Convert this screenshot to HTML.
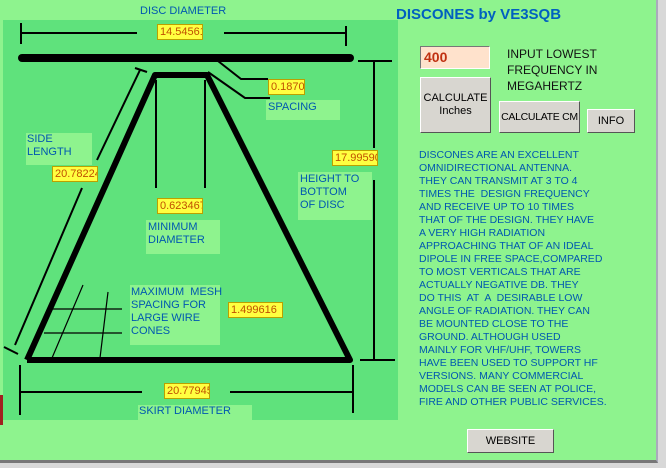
<!DOCTYPE html>
<html><head><style>
body{margin:0;width:666px;height:468px;overflow:hidden;background:#d8d8d8;font-family:"Liberation Sans",sans-serif;position:relative}
.pg{position:absolute;left:0;top:0;width:656px;height:460px;background:#8ef38e;border-right:2px solid #aab;border-bottom:3px solid #777}
.t{position:absolute;color:#0058b0;font-size:11px;line-height:13px;white-space:pre}
.bx{position:absolute;background:#ffff40;border:1px solid #bba000;color:#c05000;font-size:11px;line-height:14px;overflow:hidden;white-space:nowrap;padding-left:2px;box-sizing:border-box}
.btn{position:absolute;background:#d8d6d0;border:1px solid;border-color:#fff #555 #555 #fff;font-size:11px;text-align:center;color:#000;box-sizing:border-box;display:flex;align-items:center;justify-content:center;line-height:13px;white-space:nowrap}
.lb{position:absolute;background:#8ef38e}
</style></head><body>
<div class="pg"></div>
<div style="position:absolute;left:3px;top:20px;width:395px;height:400px;background:#5fe27c"></div>
<div style="position:absolute;left:0;top:395px;width:3px;height:30px;background:#a02020"></div>
<div class="lb" style="left:3px;top:0;width:395px;height:20px"></div>
<div class="lb" style="left:266px;top:100px;width:74px;height:20px"></div>
<div class="lb" style="left:26px;top:133px;width:66px;height:32px"></div>
<div class="lb" style="left:298px;top:172px;width:74px;height:48px"></div>
<div class="lb" style="left:146px;top:220px;width:74px;height:34px"></div>
<div class="lb" style="left:130px;top:285px;width:90px;height:60px"></div>
<div class="lb" style="left:138px;top:405px;width:114px;height:15px"></div>
<svg style="position:absolute;left:0;top:0" width="400" height="425">
<g stroke="#000" fill="none">
<line x1="22" y1="58" x2="350" y2="58" stroke-width="8" stroke-linecap="round"/>
<polyline points="27,360 155,75 207,75 350,360 27,360" stroke-width="6" stroke-linejoin="round"/>
<g stroke-width="2">
<line x1="21" y1="23" x2="21" y2="44"/><line x1="346" y1="26" x2="346" y2="46"/>
<line x1="21" y1="33" x2="137" y2="33"/><line x1="224" y1="33" x2="346" y2="33"/>
<polyline points="218,61 241,79 268,79"/><polyline points="208,72 245,98 270,98"/>
<line x1="358" y1="61" x2="392" y2="61"/><line x1="374" y1="60" x2="374" y2="148"/>
<line x1="374" y1="180" x2="374" y2="360"/><line x1="360" y1="360" x2="395" y2="360"/>
<line x1="140" y1="70" x2="97" y2="160"/><line x1="135" y1="68" x2="147" y2="72"/>
<line x1="82" y1="188" x2="15" y2="345"/><line x1="4" y1="347" x2="18" y2="354"/>
<line x1="156" y1="80" x2="156" y2="188"/><line x1="205" y1="80" x2="205" y2="188"/>
<line x1="20" y1="365" x2="20" y2="415"/><line x1="353" y1="365" x2="353" y2="413"/>
<line x1="20" y1="392" x2="142" y2="392"/><line x1="230" y1="392" x2="353" y2="392"/>
</g>
<g stroke-width="1.2">
<line x1="52" y1="309" x2="122" y2="309"/><line x1="44" y1="333" x2="122" y2="333"/>
<line x1="83" y1="285" x2="52" y2="358"/><line x1="108" y1="292" x2="100" y2="358"/>
</g></g></svg>
<div class="t" style="left:140px;top:5px">DISC DIAMETER</div>
<div class="bx" style="left:157px;top:24px;width:46px;height:16px">14.54561</div>
<div class="bx" style="left:268px;top:79px;width:37px;height:16px">0.1870</div>
<div class="t" style="left:268px;top:101px">SPACING</div>
<div class="t" style="left:27px;top:133px">SIDE
LENGTH</div>
<div class="bx" style="left:52px;top:166px;width:46px;height:16px">20.78224</div>
<div class="bx" style="left:332px;top:150px;width:46px;height:16px">17.99590</div>
<div class="t" style="left:300px;top:173px">HEIGHT TO
BOTTOM
OF DISC</div>
<div class="bx" style="left:157px;top:198px;width:46px;height:16px">0.623467</div>
<div class="t" style="left:148px;top:221px">MINIMUM
DIAMETER</div>
<div class="t" style="left:131px;top:286px">MAXIMUM  MESH
SPACING FOR
LARGE WIRE
CONES</div>
<div class="bx" style="left:228px;top:302px;width:55px;height:16px">1.499616</div>
<div class="bx" style="left:164px;top:383px;width:46px;height:16px">20.77945</div>
<div class="t" style="left:139px;top:405px">SKIRT DIAMETER</div>
<div style="position:absolute;left:396px;top:6px;color:#0060c0;font-weight:bold;font-size:15px">DISCONES by VE3SQB</div>
<div style="position:absolute;left:420px;top:46px;width:70px;height:23px;background:#ffe2cc;border:1px solid;border-color:#777 #fff #fff #777;box-sizing:border-box;color:#c03010;font-weight:bold;font-size:14px;line-height:21px;padding-left:3px">400</div>
<div style="position:absolute;left:507px;top:46px;font-size:12px;line-height:16px;color:#111">INPUT LOWEST<br>FREQUENCY IN<br>MEGAHERTZ</div>
<div class="btn" style="left:420px;top:77px;width:71px;height:56px">CALCULATE<br>Inches</div>
<div class="btn" style="left:499px;top:101px;width:81px;height:32px;font-size:10.5px;letter-spacing:-0.3px">CALCULATE CM</div>
<div class="btn" style="left:587px;top:109px;width:48px;height:24px">INFO</div>
<div class="t" style="left:419px;top:149px;font-size:10.5px">DISCONES ARE AN EXCELLENT
OMNIDIRECTIONAL ANTENNA.
THEY CAN TRANSMIT AT 3 TO 4
TIMES THE  DESIGN FREQUENCY
AND RECEIVE UP TO 10 TIMES
THAT OF THE DESIGN. THEY HAVE
A VERY HIGH RADIATION
APPROACHING THAT OF AN IDEAL
DIPOLE IN FREE SPACE,COMPARED
TO MOST VERTICALS THAT ARE
ACTUALLY NEGATIVE DB. THEY
DO THIS  AT  A  DESIRABLE LOW
ANGLE OF RADIATION. THEY CAN
BE MOUNTED CLOSE TO THE
GROUND. ALTHOUGH USED
MAINLY FOR VHF/UHF, TOWERS
HAVE BEEN USED TO SUPPORT HF
VERSIONS. MANY COMMERCIAL
MODELS CAN BE SEEN AT POLICE,
FIRE AND OTHER PUBLIC SERVICES.</div>
<div class="btn" style="left:467px;top:429px;width:87px;height:24px">WEBSITE</div>
</body></html>
